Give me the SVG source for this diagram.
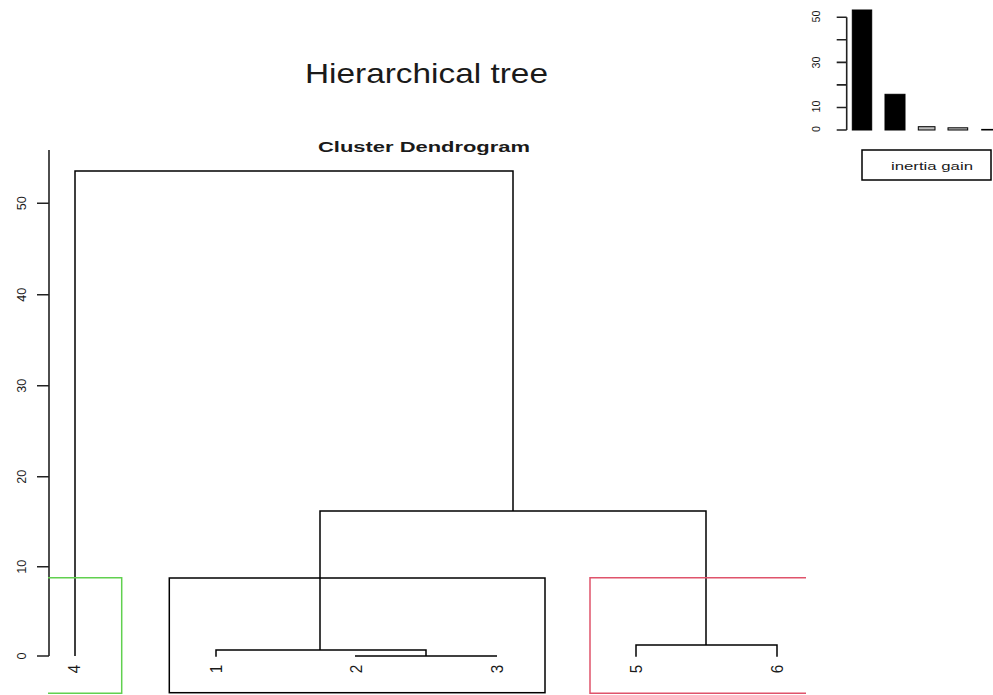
<svg xmlns="http://www.w3.org/2000/svg" width="993" height="695" viewBox="0 0 993 695">
<style>
text{font-family:"Liberation Sans",Arial,sans-serif;fill:#1a1a1a}
.ln{fill:none;stroke:#000;stroke-width:1.5}
.ax{fill:none;stroke:#222;stroke-width:1.6}
.tick{font-size:12.5px}
.leaf{font-size:17px}
.btick{font-size:11px}
</style>
<rect width="993" height="695" fill="#fff"/>
<text id="title" x="426.5" y="82.5" font-size="28" text-anchor="middle" textLength="243" lengthAdjust="spacingAndGlyphs">Hierarchical tree</text>
<text id="subtitle" x="424" y="152" font-size="15.5" font-weight="bold" text-anchor="middle" textLength="212" lengthAdjust="spacingAndGlyphs">Cluster Dendrogram</text>

<g id="yaxis">
<path class="ax" d="M49,150V656M37,656H49M37,566.7H49M37,476.7H49M37,385.7H49M37,294.7H49M37,203.3H49"/>
<text class="tick" transform="translate(26,656) rotate(-90)" text-anchor="middle" textLength="7" lengthAdjust="spacingAndGlyphs">0</text>
<text class="tick" transform="translate(26,566.7) rotate(-90)" text-anchor="middle" textLength="14" lengthAdjust="spacingAndGlyphs">10</text>
<text class="tick" transform="translate(26,476.7) rotate(-90)" text-anchor="middle" textLength="14" lengthAdjust="spacingAndGlyphs">20</text>
<text class="tick" transform="translate(26,385.7) rotate(-90)" text-anchor="middle" textLength="14" lengthAdjust="spacingAndGlyphs">30</text>
<text class="tick" transform="translate(26,294.7) rotate(-90)" text-anchor="middle" textLength="14" lengthAdjust="spacingAndGlyphs">40</text>
<text class="tick" transform="translate(26,203.3) rotate(-90)" text-anchor="middle" textLength="14" lengthAdjust="spacingAndGlyphs">50</text>
</g>

<g id="connectors">
<path class="ln" d="M75,656V171H513V511"/>
<path class="ln" d="M320,650V511H706V645"/>
<path class="ln" d="M216,656.7V650H426V656"/>
<path class="ln" d="M355,656H497"/>
<path class="ln" d="M636,656.7V645H777V656.7"/>
</g>

<g id="leaf-4"><text class="leaf" transform="translate(80,669) rotate(-90)" text-anchor="middle" textLength="8.5" lengthAdjust="spacingAndGlyphs">4</text></g>
<g id="leaf-1"><text class="leaf" transform="translate(222,669) rotate(-90)" text-anchor="middle" textLength="8.5" lengthAdjust="spacingAndGlyphs">1</text></g>
<g id="leaf-2"><text class="leaf" transform="translate(361.5,669) rotate(-90)" text-anchor="middle" textLength="8.5" lengthAdjust="spacingAndGlyphs">2</text></g>
<g id="leaf-3"><text class="leaf" transform="translate(503,669) rotate(-90)" text-anchor="middle" textLength="8.5" lengthAdjust="spacingAndGlyphs">3</text></g>
<g id="leaf-5"><text class="leaf" transform="translate(642,669) rotate(-90)" text-anchor="middle" textLength="8.5" lengthAdjust="spacingAndGlyphs">5</text></g>
<g id="leaf-6"><text class="leaf" transform="translate(783,669) rotate(-90)" text-anchor="middle" textLength="8.5" lengthAdjust="spacingAndGlyphs">6</text></g>

<g id="cluster-green"><path d="M48,577.7H121.7V693.3H48" fill="none" stroke="#61D04F" stroke-width="1.5"/></g>
<g id="cluster-black"><rect x="169.3" y="578" width="375.7" height="114.7" fill="none" stroke="#000" stroke-width="1.5"/></g>
<g id="cluster-red"><path d="M806,577.7H590V693.3H806" fill="none" stroke="#DF536B" stroke-width="1.5"/></g>

<g id="inertia-barplot">
<path class="ax" d="M846.7,17.3V130M836.7,130H846.7M836.7,107.5H846.7M836.7,84.9H846.7M836.7,62.4H846.7M836.7,39.8H846.7M836.7,17.3H846.7"/>
<text class="btick" transform="translate(820,129) rotate(-90)" text-anchor="middle" textLength="6" lengthAdjust="spacingAndGlyphs">0</text>
<text class="btick" transform="translate(820,106.5) rotate(-90)" text-anchor="middle" textLength="12" lengthAdjust="spacingAndGlyphs">10</text>
<text class="btick" transform="translate(820,62.4) rotate(-90)" text-anchor="middle" textLength="12" lengthAdjust="spacingAndGlyphs">30</text>
<text class="btick" transform="translate(820,16.5) rotate(-90)" text-anchor="middle" textLength="12" lengthAdjust="spacingAndGlyphs">50</text>
<rect x="852.3" y="10" width="19.4" height="120" fill="#000" stroke="#000"/>
<rect x="885" y="94.3" width="20" height="35.7" fill="#000" stroke="#000"/>
<rect x="918.3" y="126.7" width="16.7" height="3.3" fill="#bebebe" stroke="#000"/>
<rect x="948" y="127.8" width="19.7" height="2.2" fill="#bebebe" stroke="#000"/>
<rect x="981.7" y="129.4" width="19.7" height="0.6" fill="#bebebe" stroke="#000"/>
</g>

<g id="legend">
<rect x="862" y="150" width="129" height="30" fill="none" stroke="#000" stroke-width="1.5"/>
<text x="932" y="169.5" font-size="10.5" text-anchor="middle" textLength="82" lengthAdjust="spacingAndGlyphs">inertia gain</text>
</g>
</svg>
